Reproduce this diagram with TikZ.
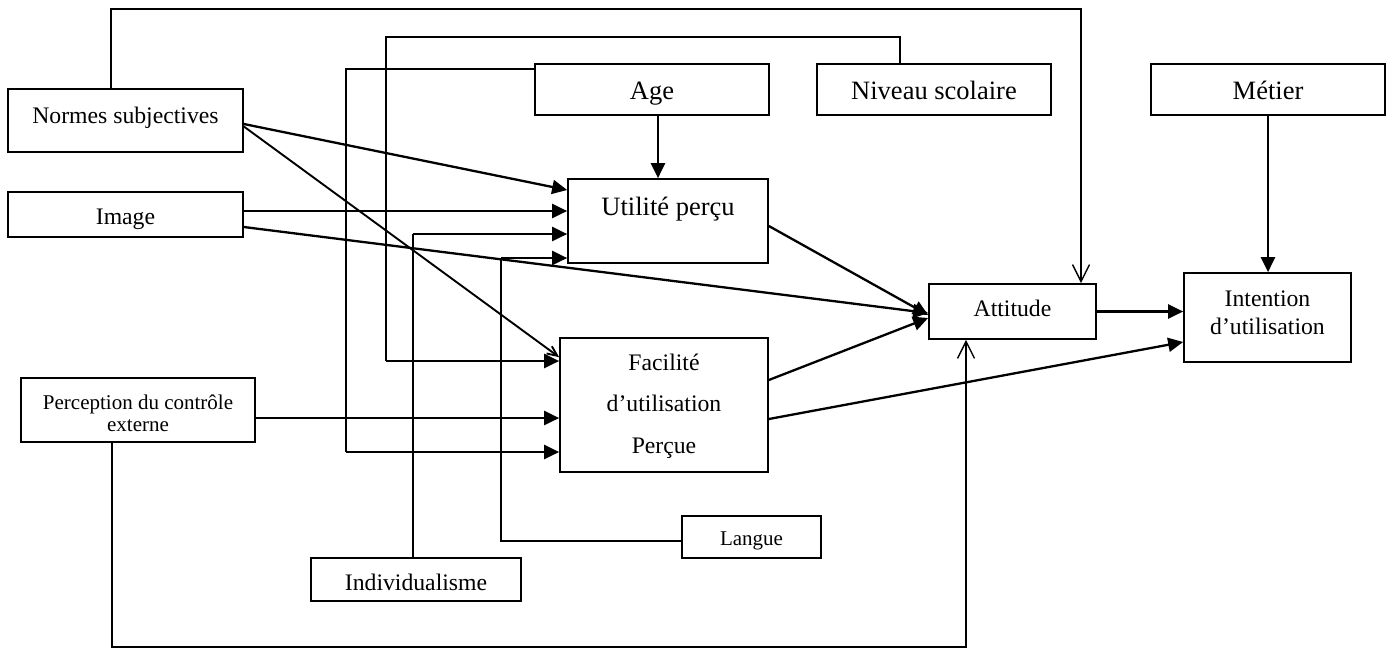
\documentclass[tikz,border=0pt]{standalone}
\usepackage{fontspec}
\setmainfont{Liberation Serif}
\usetikzlibrary{arrows.meta}

\begin{document}
\begin{tikzpicture}[x=1pt,y=-1pt,
  box/.style 2 args={draw, line width=1.7pt, minimum width=#1, minimum height=#2, inner sep=0pt},
  lbl/.style={anchor=base, inner sep=0pt, font=\fontsize{23.7}{28}\selectfont},
  lblbig/.style={lbl, font=\fontsize{26.5}{30}\selectfont},
  lblsmall/.style={lbl, font=\fontsize{21}{24}\selectfont},
  link/.style={line width=1.4pt},
  feed/.style={line width=2.3pt, -{Triangle[length=15pt,width=14pt]}},
  openfeed/.style={line width=1.4pt, -{Straight Barb[length=17pt,width=17pt]}},
  thinfeed/.style={line width=1.9pt, -{Straight Barb[length=10pt,width=9pt]}},
]
\useasboundingbox (0,0) rectangle (1391,649);

% boxes
\node[box={235pt}{63pt}] (ns)   at (125.5,120.5) {};
\node[box={235pt}{45pt}] (img)  at (125.5,214.5) {};
\node[box={234pt}{64pt}] (pce)  at (138,410) {};
\node[box={234pt}{51pt}] (age)  at (652,89.5) {};
\node[box={234pt}{51pt}] (niv)  at (934,89.5) {};
\node[box={234pt}{51pt}] (met)  at (1268,89.5) {};
\node[box={200pt}{84pt}] (up)   at (668,221) {};
\node[box={208pt}{134pt}] (fu)  at (664,405) {};
\node[box={167pt}{55pt}] (att)  at (1012.5,311.5) {};
\node[box={167pt}{89pt}] (intn) at (1267.5,317.5) {};
\node[box={210pt}{43pt}] (ind)  at (416,579.5) {};
\node[box={139pt}{42pt}] (lang) at (751.5,537) {};

% labels
\node[lbl] (tns) at (125.5,123) {Normes subjectives};
\node[lbl] (timg) at (125.5,224) {Image};
\node[lblsmall] (tpce1) at (138,409) {Perception du contrôle};
\node[lblsmall] (tpce2) at (138,431.7) {externe};
\node[lblbig] (tage) at (652,99) {Age};
\node[lblbig] (tniv) at (934,99) {Niveau scolaire};
\node[lblbig] (tmet) at (1268,99) {Métier};
\node[lblbig] (tup) at (668,215) {Utilité perçu};
\node[lbl] (tfu1) at (664,370.7) {Facilité};
\node[lbl] (tfu2) at (664,411.7) {d’utilisation};
\node[lbl] (tfu3) at (664,453) {Perçue};
\node[lbl] (tatt) at (1012.5,316.7) {Attitude};
\node[lbl] (tin1) at (1267.5,306.7) {Intention};
\node[lbl] (tin2) at (1267.5,334) {d’utilisation};
\node[lbl] (tind) at (416,590) {Individualisme};
\node[lblsmall] (tlang) at (751.5,545) {Langue};

% Normes subjectives -> Attitude, routed over the top
\coordinate (ta) at (111,9);
\coordinate (tb) at (1081,9);
\draw[openfeed] (ns.north -| ta) -- (ta) -- (tb) -- (att.north -| tb);

% Niveau scolaire -> Facilité
\coordinate (na) at (900,37);
\coordinate (nb) at (386,37);
\coordinate (nc) at (386,361);
\draw[link] (niv.north -| na) -- (na) -- (nb) -- (nc);
\draw[feed] (nc) -- (nc -| fu.west);

% Age -> Facilité
\coordinate (aw) at ([yshift=20.5pt]age.west);
\coordinate (ab) at (346,69);
\coordinate (ac) at (346,452);
\draw[link] (aw) -- (ab) -- (ac);
\draw[feed] (ac) -- (ac -| fu.west);

% Age -> Utilité
\coordinate (as) at ([xshift=6pt]age.south);
\draw[feed] (as) -- (as |- up.north);

% Image -> Utilité
\coordinate (ie) at ([yshift=3.5pt]img.east);
\draw[feed] (ie) -- (ie -| up.west);

% Individualisme -> Utilité
\coordinate (ia) at (413,234);
\draw[link] (ind.north -| ia) -- (ia);
\draw[feed] (ia) -- (ia -| up.west);

% Langue -> Utilité
\coordinate (lw) at ([yshift=-4pt]lang.west);
\coordinate (la) at (501,541);
\coordinate (lb) at (501,258);
\draw[link] (lw) -- (la) -- (lb);
\draw[feed] (lb) -- (lb -| up.west);

% Perception du contrôle externe -> Facilité
\coordinate (pe) at ([yshift=-8pt]pce.east);
\draw[feed] (pe) -- (pe -| fu.west);

% Perception du contrôle externe -> Attitude, routed below
\coordinate (pa) at (112,647);
\coordinate (pb) at (966,647);
\draw[openfeed] (pce.south -| pa) -- (pa) -- (pb) -- (att.south -| pb);

% diagonal influences
\draw[feed] ([yshift=-3.5pt]ns.east) -- ([yshift=31pt]up.west);
\draw[thinfeed] ([yshift=-6pt]ns.east) -- ([yshift=-20pt]fu.north west);
\draw[feed] ([yshift=-12.5pt]img.east) -- ([yshift=-1.5pt]att.west);
\draw[feed] ([yshift=-5pt]up.east) -- ([yshift=-3.5pt]att.west);
\draw[feed] ([yshift=25pt]fu.east) -- ([yshift=-6.5pt]att.west);
\draw[feed] ([yshift=-14pt]fu.east) -- ([yshift=-24.5pt]intn.west);

% Attitude and Métier -> Intention
\draw[feed] (att.east) -- (att.east -| intn.west);
\draw[feed] (met.south) -- (met.south |- intn.north);
\end{tikzpicture}
\end{document}
